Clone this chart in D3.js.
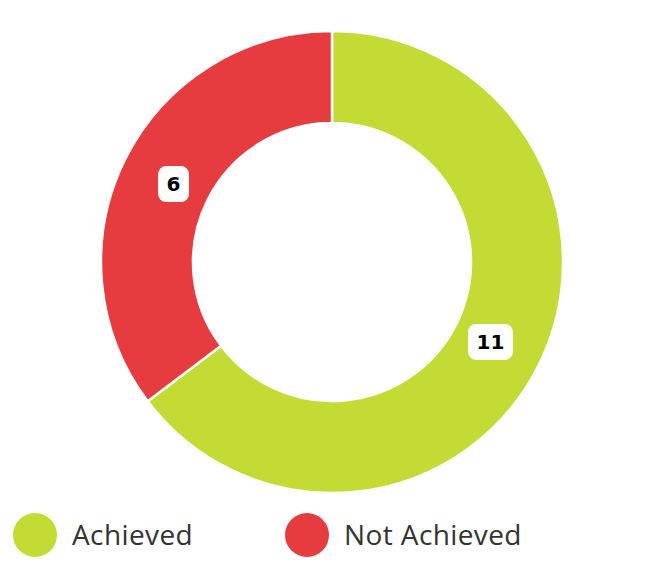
<!DOCTYPE html>
<html>
<head>
<meta charset="utf-8">
<script src="https://cdn.jsdelivr.net/npm/d3@7"></script>
<style>
  body { margin: 0; background: #fff; }
  svg { display: block; }
</style>
</head>
<body>
<script>
// chart data
var categories = ["Achieved", "Not Achieved"];
var counts = [11, 6];
var colours = ["#C4DB35", "#E63B3F"];

var width = 658, height = 583;
var cx = 332, cy = 262;
var outerR = 231, innerR = 139, labelR = 177;

var svg = d3.select("body").append("svg")
    .attr("width", width)
    .attr("height", height);

var color = d3.scaleOrdinal()
    .domain(categories)
    .range(colours);

var data = categories.map(function(c, i) { return {name: c, value: counts[i]}; });

var pie = d3.pie()
    .sort(null)
    .value(function(d) { return d.value; });

var arc = d3.arc()
    .innerRadius(innerR)
    .outerRadius(outerR);

var labelArc = d3.arc()
    .innerRadius(labelR)
    .outerRadius(labelR);

var g = svg.append("g")
    .attr("transform", "translate(" + cx + "," + cy + ")");

g.selectAll("path")
    .data(pie(data))
    .enter()
    .append("path")
    .attr("d", arc)
    .style("fill", function(d) { return color(d.data.name); })
    .style("stroke", "#fff")
    .style("stroke-width", 2.5);

// value labels in white rounded boxes
var labels = g.selectAll(".lbl")
    .data(pie(data))
    .enter()
    .append("g")
    .attr("class", "lbl")
    .attr("transform", function(d) {
        var c = labelArc.centroid(d);
        return "translate(" + c[0] + "," + (c[1] + 1) + ")";
    });

labels.append("text")
    .attr("text-anchor", "middle")
    .attr("dy", "0.36em")
    .style("font-family", "'DejaVu Sans', sans-serif")
    .style("font-weight", "bold")
    .style("font-size", "20px")
    .style("fill", "#000")
    .text(function(d) { return d.data.value; })
    .each(function() {
        var bb = this.getBBox();
        var w = bb.width + 17, h = 36;
        d3.select(this.parentNode).insert("rect", "text")
            .attr("x", -w / 2)
            .attr("y", -h / 2)
            .attr("width", w)
            .attr("height", h)
            .attr("rx", 8)
            .style("fill", "#fff");
    });

// legend
var legend = svg.append("g")
    .selectAll("g")
    .data(categories)
    .enter()
    .append("g")
    .attr("transform", function(d, i) {
        return "translate(" + (35 + i * 272) + ",535)";
    });

legend.append("circle")
    .attr("r", 22)
    .style("fill", color);

legend.append("text")
    .attr("x", 37)
    .attr("dy", "0.35em")
    .style("font-family", "'Open Sans', sans-serif")
    .style("font-size", "28px")
    .style("letter-spacing", "0.4px")
    .style("fill", "#333")
    .text(function(d) { return d; });
</script>
</body>
</html>
